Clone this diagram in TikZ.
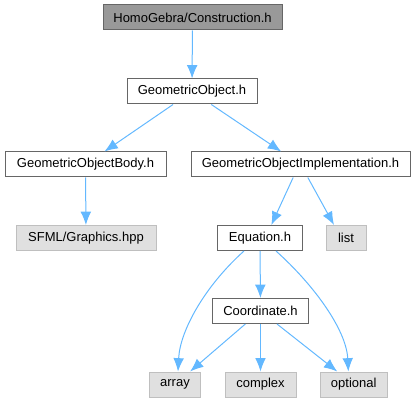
\documentclass[tikz,border=0pt]{standalone}
\usepackage{fontspec}
\setmainfont{Liberation Sans}
\usetikzlibrary{arrows.meta}
\definecolor{edgec}{HTML}{63B8FF}
\definecolor{bord}{HTML}{666666}
\definecolor{topfill}{HTML}{999999}
\definecolor{extfill}{HTML}{E0E0E0}
\definecolor{extbord}{HTML}{BFBFBF}
\begin{document}
\begin{tikzpicture}[x=0.75pt,y=-0.75pt,
  box/.style={draw=bord,fill=white,line width=0.75pt,minimum height=18.75pt,inner sep=0pt,font=\fontsize{9.75}{11}\selectfont},
  topbox/.style={box,fill=topfill},
  extbox/.style={box,draw=extbord,fill=extfill},
  edge/.style={draw=edgec,line width=0.75pt,-{Latex[length=10pt,width=8pt]}}]
\useasboundingbox (0,0) rectangle (415,403);
\node[topbox,minimum width=134.25pt] (cons) at (192.5,17.5) {HomoGebra/Construction.h};
\node[box,minimum width=97.5pt] (go) at (192,91.5) {GeometricObject.h};
\node[box,minimum width=120.75pt] (body) at (85.5,164.5) {GeometricObjectBody.h};
\node[box,minimum width=164.25pt] (impl) at (300.5,164.5) {GeometricObjectImplementation.h};
\node[extbox,minimum width=105pt] (sfml) at (86,238) {SFML/Graphics.hpp};
\node[box,minimum width=63.75pt] (eq) at (260,238) {Equation.h};
\node[extbox,minimum width=30pt] (list) at (346,238) {list};
\node[box,minimum width=72pt] (coord) at (260.5,311) {Coordinate.h};
\node[extbox,minimum width=38.25pt] (array) at (175,384.5) {array};
\node[extbox,minimum width=53.25pt] (complex) at (260.5,384.5) {complex};
\node[extbox,minimum width=50.25pt] (optional) at (353.7,384.5) {optional};
\draw[edge] (cons) -- (go);
\draw[edge] (go) -- (body);
\draw[edge] (go) -- (impl);
\draw[edge] (body) -- (sfml);
\draw[edge] ([xshift=-5.5pt]impl.south) -- ([xshift=8.5pt]eq.north);
\draw[edge] ([xshift=5.5pt]impl.south) -- ([xshift=-9pt]list.north);
\draw[edge] (eq) -- (coord);
\draw[edge] ([xshift=-12pt]eq.south) .. controls +(-29pt,-26pt) and +(1.5pt,31pt) .. ([xshift=2.25pt]array.north);
\draw[edge] ([xshift=12pt]eq.south) .. controls +(29pt,-26pt) and +(-1.5pt,31pt) .. ([xshift=-4pt]optional.north);
\draw[edge] (coord) -- (array);
\draw[edge] (coord) -- (complex);
\draw[edge] (coord) -- (optional);
\end{tikzpicture}
\end{document}
